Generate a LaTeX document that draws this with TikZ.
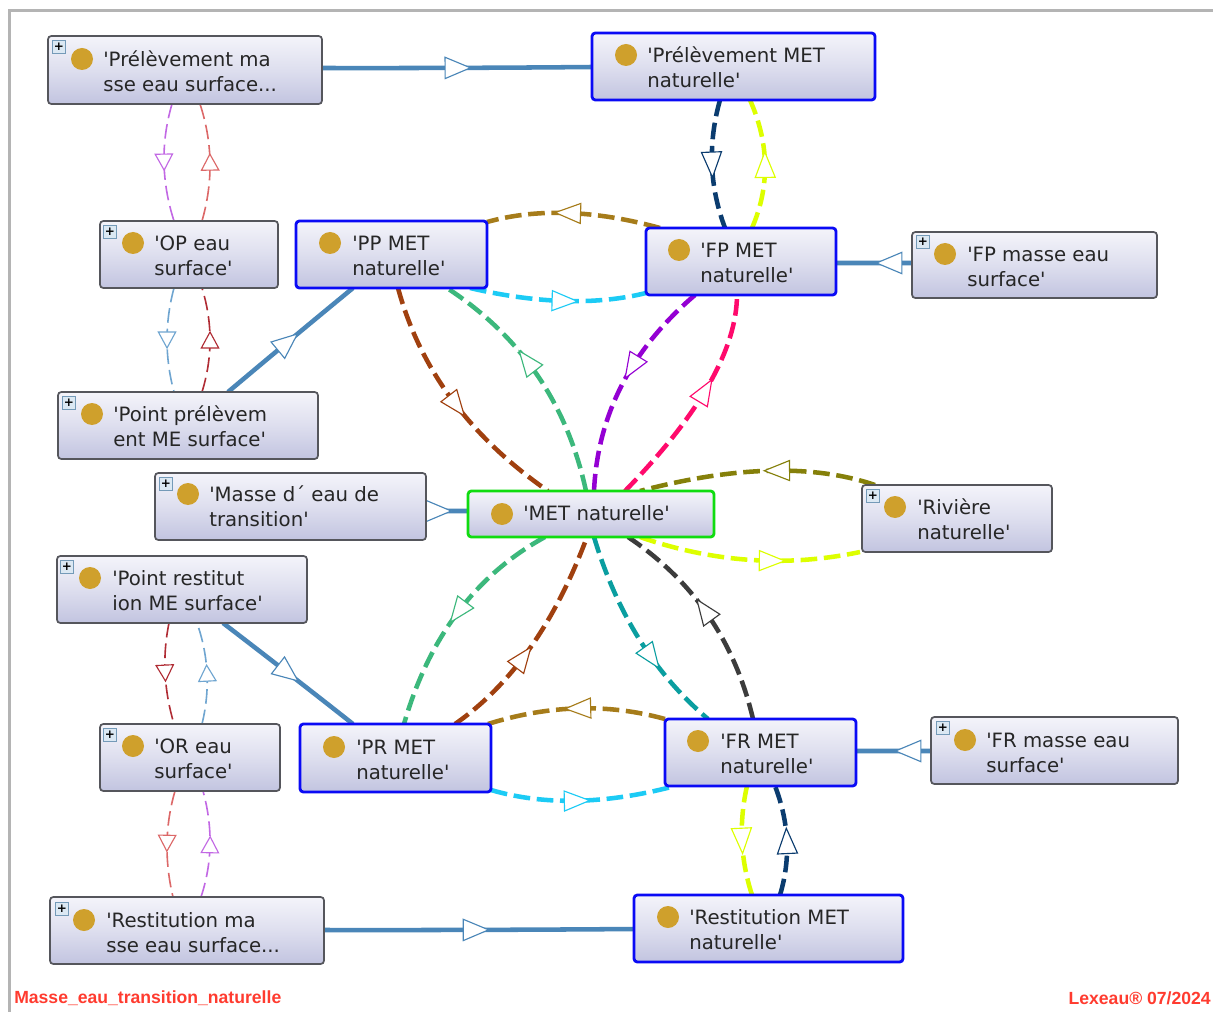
\documentclass[tikz,border=0pt]{standalone}
\usepackage{fontspec}
\setmainfont{DejaVu Sans}[Ligatures=TeXOff]
\newfontfamily\footfont{Liberation Sans}
\usetikzlibrary{backgrounds,calc}
\definecolor{frameg}{HTML}{B4B4B4}
\definecolor{edgeg}{HTML}{55565C}
\definecolor{boxtop}{HTML}{F4F4FA}
\definecolor{boxbot}{HTML}{C2C4E0}
\definecolor{dotc}{HTML}{CFA02C}
\definecolor{blueb}{HTML}{0A0AF5}
\definecolor{greenb}{HTML}{10DC10}
\definecolor{steel}{HTML}{4A86B8}
\definecolor{navy}{HTML}{0B3C6F}
\definecolor{lime}{HTML}{DDFF00}
\definecolor{gold}{HTML}{A67C1A}
\definecolor{cyanc}{HTML}{1CCBF5}
\definecolor{purp}{HTML}{9400D3}
\definecolor{pinkc}{HTML}{FF0A6C}
\definecolor{rust}{HTML}{A0400F}
\definecolor{greenc}{HTML}{3CB87C}
\definecolor{olive}{HTML}{85800A}
\definecolor{tealc}{HTML}{0A9EA0}
\definecolor{darkc}{HTML}{3C3C3C}
\definecolor{mauve}{HTML}{C268E4}
\definecolor{salmon}{HTML}{DC6868}
\definecolor{skyb}{HTML}{6FA5D0}
\definecolor{crim}{HTML}{B02C34}
\definecolor{footr}{HTML}{FF3B2F}
\tikzset{
  x=0.75pt,y=-0.75pt,
  ebox/.style={rectangle,rounded corners=2.5pt,top color=boxtop,bottom color=boxbot,middle color=boxtop!55!boxbot,
    draw=edgeg,line width=1.3pt,inner sep=0pt,outer sep=0pt},
  bluebox/.style={ebox,draw=blueb,line width=2.1pt},
  greenbox/.style={ebox,draw=greenb,line width=2.1pt},
  edot/.style={circle,fill=dotc,minimum size=16.5pt,inner sep=0pt},
  etext/.style={anchor=west,align=left,inner sep=0pt,text=black!85,font=\fontsize{14.8}{18.8}\selectfont},
  plusbox/.style={rectangle,draw=skyb!70!gray,fill=skyb!25,minimum size=10pt,inner sep=0pt,line width=.6pt,
    font=\fontsize{9}{9}\selectfont\bfseries,text=black},
  heavy/.style={line width=3.4pt,dash pattern=on 12.5pt off 5pt},
  solidl/.style={line width=3.4pt},
  thin1/.style={line width=1.2pt,dash pattern=on 11pt off 4.5pt},
  headtri/.style={solid,fill=white,line width=.85pt,line join=miter},
  foot/.style={inner sep=0pt,text=footr,font=\footfont\fontsize{13.2}{13.2}\selectfont\bfseries}
}
\newcommand\ent[9]{%
  \node[#1,minimum width={(#5-#3)*0.75pt},minimum height={(#6-#4)*0.75pt}] (#2) at ({(#3+#5)/2},{(#4+#6)/2}) {};
  \node[edot] (#2d) at (#7,#8) {};
  \entrest{#2}{#9}{#8}}
\newcommand\entrest[4]{\node[etext] (#1t) at (#2,#3+12.5) {#4};}
\newcommand\plusm[2]{\node[plusbox] (#1p) at (#2) {+};}
% #1 style #2 half length #3 half width #4 colour #5 start #6 mid-handle #7 end #8 curve parameter of the head
\newcommand\cn[8]{%
  \coordinate (ca) at (#5);
  \coordinate (cb) at (#7);
  \coordinate (cm) at ($(ca)!.5!(cb)$);
  \coordinate (cq) at ($(cm)!1.5!(#6)$);
  \draw[#1,draw=#4] (ca) .. controls ($(ca)!.6667!(cq)$) and ($(cb)!.6667!(cq)$) .. (cb);
  \coordinate (hl) at ($(ca)!#8!(cq)$);
  \coordinate (hr) at ($(cq)!#8!(cb)$);
  \coordinate (hp) at ($(hl)!#8!(hr)$);
  \coordinate (htip) at ($(hp)!#2pt!(hr)$);
  \coordinate (hback) at ($(hp)!-#2pt!(hr)$);
  \draw[headtri,draw=#4] (htip) -- ($(hback)!#3pt!90:(hp)$) -- ($(hback)!#3pt!-90:(hp)$) -- cycle;}
\newcommand\cnh[5]{\cn{heavy}{9.5}{7.5}{#1}{#2}{#3}{#4}{#5}}
\newcommand\cns[5]{\cn{solidl}{9.5}{8}{#1}{#2}{#3}{#4}{#5}}
\newcommand\cnt[5]{\cn{thin1}{6}{6.5}{#1}{#2}{#3}{#4}{#5}}
\begin{document}
\begin{tikzpicture}
\useasboundingbox (0,0) rectangle (1213,1012);
\begin{pgfonlayer}{background}
\fill[white] (0,0) rectangle (1213,1012);
\end{pgfonlayer}
\draw[frameg,line width=2.2pt] (9.5,1012) -- (9.5,10.5) -- (1213,10.5);

\ent{ebox}{mp}{48}{36}{322}{104}{82}{59}{103}
  {'Prélèvement ma\\sse eau surface...}
\ent{bluebox}{pmn}{592}{33}{875}{100}{626}{55}{647}
  {'Prélèvement MET\\naturelle'}
\ent{ebox}{op}{100}{221}{278}{288}{133}{243}{154}
  {'OP eau\\surface'}
\ent{bluebox}{ppn}{296}{221}{487}{288}{330}{243}{352}
  {'PP MET\\naturelle'}
\ent{bluebox}{fpn}{646}{228}{836}{295}{679}{250}{700}
  {'FP MET\\naturelle'}
\ent{ebox}{fpm}{912}{232}{1157}{298}{945}{254}{967}
  {'FP masse eau\\surface'}
\ent{ebox}{ptp}{58}{392}{318}{459}{92}{414}{113}
  {'Point prélèvem\\ent ME surface'}
\ent{ebox}{mdt}{155}{473}{426}{540}{188}{494}{209}
  {'Masse d´ eau de\\transition'}
\ent{greenbox}{met}{468}{491}{714}{537}{502}{514}{523}
  {}
\node[etext] (mett) at (523,513) {'MET naturelle'};
\ent{ebox}{riv}{862}{485}{1052}{552}{895}{507}{917}
  {'Rivière\\naturelle'}
\ent{ebox}{ptr}{57}{556}{307}{623}{90}{578}{112}
  {'Point restitut\\ion ME surface'}
\ent{ebox}{orr}{100}{724}{280}{791}{133}{746}{154}
  {'OR eau\\surface'}
\ent{bluebox}{prn}{300}{724}{491}{792}{334}{747}{356}
  {'PR MET\\naturelle'}
\ent{bluebox}{frn}{665}{719}{856}{786}{698}{741}{720}
  {'FR MET\\naturelle'}
\ent{ebox}{frm}{931}{717}{1178}{784}{965}{740}{986}
  {'FR masse eau\\surface'}
\ent{ebox}{rma}{50}{897}{324}{964}{84}{920}{106}
  {'Restitution ma\\sse eau surface...}
\ent{bluebox}{rmn}{634}{895}{903}{962}{668}{917}{689}
  {'Restitution MET\\naturelle'}

\plusm{mp}{59,47}
\plusm{op}{110,232}
\plusm{fpm}{923,242}
\plusm{ptp}{69,403}
\plusm{mdt}{166,484}
\plusm{riv}{873,496}
\plusm{ptr}{67,567}
\plusm{orr}{110,735}
\plusm{frm}{943,728}
\plusm{rma}{62,909}

\node[foot,anchor=west] (fl) at (14,998) {Masse\_eau\_transition\_naturelle};
\node[foot,anchor=east] (fr) at (1211,998) {Lexeau® 07/2024};

\begin{pgfonlayer}{background}
% solid links
\cns{steel}{mp.east |- 0,68}{458,68}{pmn.west |- 0,67}{.5}
\cns{steel}{228,0 |- ptp.north}{290,340}{353,0 |- ppn.south}{.48}
\cns{steel}{223,0 |- ptr.south}{288,673}{353,0 |- prn.north}{.5}
\cns{steel}{rma.east |- 0,930}{479,930}{rmn.west |- 0,929}{.49}
\cns{steel}{fpm.west |- 0,263}{874,263}{fpn.east |- 0,263}{.3}
\cns{steel}{frm.west |- 0,751}{893,751}{frn.east |- 0,751}{.3}
\cns{steel}{mdt.east |- 0,511}{447,511}{met.west |- 0,511}{.3}
% heavy dashed
\cnh{navy}{720,0 |- pmn.south}{708.5,165}{725,0 |- fpn.north}{.5}
\cnh{lime}{752,0 |- fpn.north}{769.7,165}{750,0 |- pmn.south}{.5}
\cnh{gold}{660,0 |- fpn.north}{566,209}{ppn.east |- 0,222}{.5}
\cnh{cyanc}{470,0 |- ppn.south}{567,304.5}{fpn.west |- 0,293}{.5}
\cnh{purp}{695,0 |- fpn.south}{614.5,382}{594,0 |- met.north}{.41}
\cnh{pinkc}{625,0 |- met.north}{718,382}{737,0 |- fpn.south}{.47}
\cnh{rust}{398,0 |- ppn.south}{445,403}{548,0 |- met.north}{.53}
\cnh{greenc}{586,0 |- met.north}{544,370}{447,0 |- ppn.south}{.57}
\cnh{olive}{875,0 |- riv.north}{774,465}{640,0 |- met.north}{.47}
\cnh{lime}{640,0 |- met.south}{750,565}{860,0 |- riv.south}{.6}
\cnh{greenc}{545,0 |- met.south}{452.5,606}{404,0 |- prn.north}{.5}
\cnh{rust}{455,0 |- prn.north}{533,654}{587,0 |- met.south}{.45}
\cnh{tealc}{594,0 |- met.south}{636,644}{708,0 |- frn.north}{.6}
\cnh{darkc}{753,0 |- frn.north}{714,611}{628,0 |- met.south}{.53}
\cnh{gold}{665,0 |- frn.north}{578.5,704}{488,0 |- prn.north}{.5}
\cnh{cyanc}{prn.east |- 0,790}{575,805}{675,0 |- frn.south}{.5}
\cnh{lime}{747,0 |- frn.south}{739.5,841}{752,0 |- rmn.north}{.5}
\cnh{navy}{780,0 |- rmn.north}{790,841}{775,0 |- frn.south}{.5}
% thin dashed
\cnt{mauve}{172,0 |- mp.south}{161,162}{174,0 |- op.north}{.5}
\cnt{salmon}{202,0 |- op.north}{213,162}{200,0 |- mp.south}{.5}
\cnt{skyb}{174,0 |- op.south}{164.7,340}{174,0 |- ptp.north}{.5}
\cnt{crim}{202,0 |- ptp.north}{212.7,340}{202,0 |- op.south}{.5}
\cnt{crim}{169,0 |- ptr.south}{163,673}{174,0 |- orr.north}{.5}
\cnt{skyb}{202,0 |- orr.north}{209.5,673}{197,0 |- ptr.south}{.5}
\cnt{salmon}{175,0 |- orr.south}{164.7,843}{173,0 |- rma.north}{.5}
\cnt{mauve}{201,0 |- rma.north}{212.7,845}{203,0 |- orr.south}{.5}
\end{pgfonlayer}
\end{tikzpicture}
\end{document}
